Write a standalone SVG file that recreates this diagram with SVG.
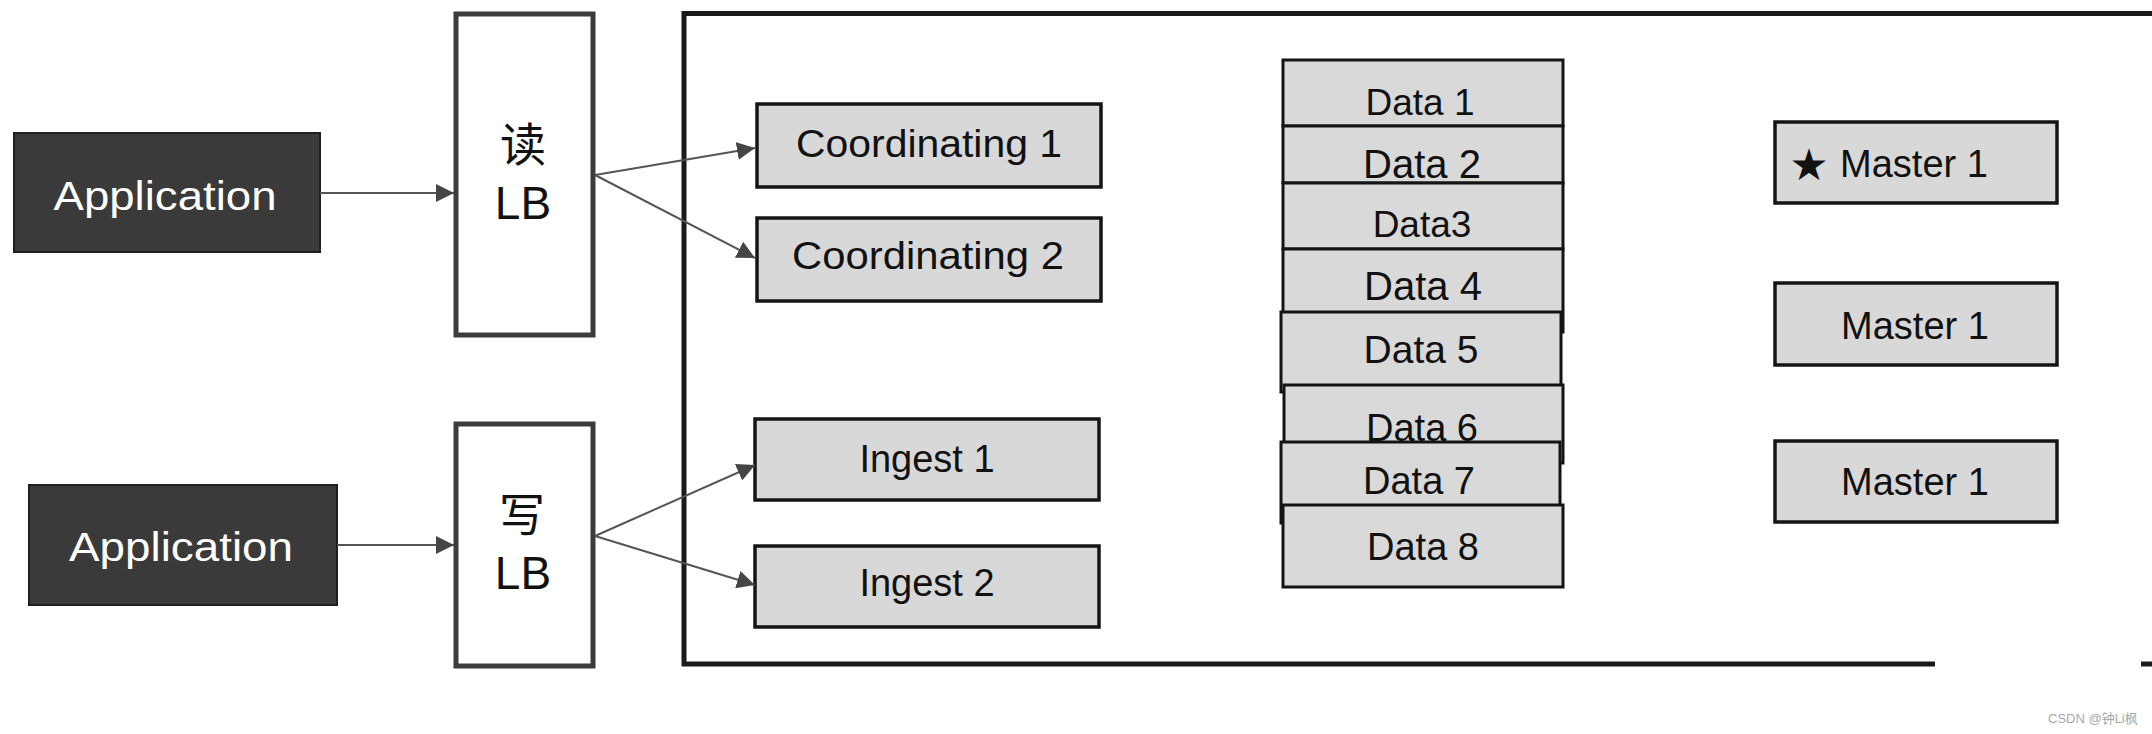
<svg xmlns="http://www.w3.org/2000/svg" width="2152" height="734" viewBox="0 0 2152 734">
<style>
.bg{fill:#ffffff}
.app rect{fill:#3a3a3a;stroke:#1e1e1e;stroke-width:2}
.app text{fill:#ffffff;font-family:"Liberation Sans",Arial,sans-serif;font-size:40px;text-anchor:middle}
.lb rect{fill:#ffffff;stroke:#3c3c3c;stroke-width:5}
.lb text{fill:#111111;font-family:"Liberation Sans","Noto Sans CJK SC",sans-serif;font-size:46px;text-anchor:middle}
.lb text.cjk{font-family:"Noto Sans CJK SC",sans-serif;font-size:46px}
.node rect{fill:#d8d8d8;stroke:#141414;stroke-width:3.5}
.node text{fill:#111111;font-family:"Liberation Sans",Arial,sans-serif;font-size:38px;text-anchor:middle}
.data rect{fill:#d9d9d9;stroke:#141414;stroke-width:3}
.data text{fill:#111111;font-family:"Liberation Sans",Arial,sans-serif;font-size:38px;text-anchor:middle}
.edge{stroke:#555555;stroke-width:2;fill:none;marker-end:url(#arrow)}
.frame{stroke:#1a1a1a;stroke-width:5;fill:none}
.wm{fill:#a8a8a8;font-family:"Liberation Sans","Noto Sans CJK SC",sans-serif;font-size:13px}
</style>
<defs>
<marker id="arrow" markerUnits="userSpaceOnUse" markerWidth="19" markerHeight="18" refX="18" refY="9" orient="auto">
<path d="M0,0 L18,9 L0,18 z" fill="#454545"/>
</marker>
</defs>
<rect class="bg" x="0" y="0" width="2152" height="734"/>

<g id="cluster">
<path class="frame" d="M2160,13.5 H684 V664 H1935"/>
<path class="frame" d="M2141,664 H2152"/>
</g>

<g id="app-read" class="app">
<rect x="14" y="133" width="306" height="119"/>
<text x="165" y="210" textLength="223" lengthAdjust="spacingAndGlyphs">Application</text>
</g>
<g id="app-write" class="app">
<rect x="29" y="485" width="308" height="120"/>
<text x="181" y="561" textLength="224" lengthAdjust="spacingAndGlyphs">Application</text>
</g>

<g id="read-lb" class="lb">
<rect x="456" y="14" width="137" height="321"/>
<text class="cjk" x="523" y="161">读</text>
<text x="523" y="219">LB</text>
</g>
<g id="write-lb" class="lb">
<rect x="456" y="424" width="137" height="242"/>
<text class="cjk" x="522" y="531">写</text>
<text x="523" y="589">LB</text>
</g>

<g id="coordinating-1" class="node">
<rect x="757" y="104" width="344" height="83"/>
<text x="929" y="157" textLength="266" lengthAdjust="spacingAndGlyphs">Coordinating 1</text>
</g>
<g id="coordinating-2" class="node">
<rect x="757" y="218" width="344" height="83"/>
<text x="928" y="269" textLength="272" lengthAdjust="spacingAndGlyphs">Coordinating 2</text>
</g>
<g id="ingest-1" class="node">
<rect x="755" y="419" width="344" height="81"/>
<text x="927" y="472">Ingest 1</text>
</g>
<g id="ingest-2" class="node">
<rect x="755" y="546" width="344" height="81"/>
<text x="927" y="596">Ingest 2</text>
</g>

<g id="data-1" class="data">
<rect x="1283" y="60" width="280" height="66"/>
<text x="1420" y="115" style="font-size:37px">Data 1</text>
</g>
<g id="data-2" class="data">
<rect x="1283" y="126" width="280" height="57"/>
<text x="1422" y="178" style="font-size:40px">Data 2</text>
</g>
<g id="data-3" class="data">
<rect x="1283" y="183" width="280" height="66"/>
<text x="1422" y="237" style="font-size:37px">Data3</text>
</g>
<g id="data-4" class="data">
<rect x="1283" y="249" width="280" height="83"/>
<text x="1423" y="300" style="font-size:40px">Data 4</text>
</g>
<g id="data-5" class="data">
<rect x="1281" y="312" width="280" height="80"/>
<text x="1421" y="363" style="font-size:39px">Data 5</text>
</g>
<g id="data-6" class="data">
<rect x="1284" y="385" width="279" height="78"/>
<text x="1422" y="441">Data 6</text>
</g>
<g id="data-7" class="data">
<rect x="1281" y="442" width="279" height="81"/>
<text x="1419" y="494">Data 7</text>
</g>
<g id="data-8" class="data">
<rect x="1283" y="505" width="280" height="82"/>
<text x="1423" y="560">Data 8</text>
</g>

<g id="master-1-elected" class="node">
<rect x="1775" y="122" width="282" height="81"/>
<text x="1809" y="180" style="font-family:'DejaVu Sans',sans-serif;font-size:44px">★</text>
<text x="1914" y="177">Master 1</text>
</g>
<g id="master-1-b" class="node">
<rect x="1775" y="283" width="282" height="82"/>
<text x="1915" y="339">Master 1</text>
</g>
<g id="master-1-c" class="node">
<rect x="1775" y="441" width="282" height="81"/>
<text x="1915" y="495">Master 1</text>
</g>

<g id="connectors">
<line class="edge" x1="320" y1="193" x2="454" y2="193"/>
<line class="edge" x1="337" y1="545" x2="454" y2="545"/>
<line class="edge" x1="595" y1="175" x2="755" y2="148"/>
<line class="edge" x1="595" y1="175" x2="755" y2="258"/>
<line class="edge" x1="595" y1="536" x2="755" y2="465"/>
<line class="edge" x1="595" y1="536" x2="755" y2="585"/>
</g>

<text class="wm" x="2048" y="723">CSDN @钟Li枫</text>
</svg>
